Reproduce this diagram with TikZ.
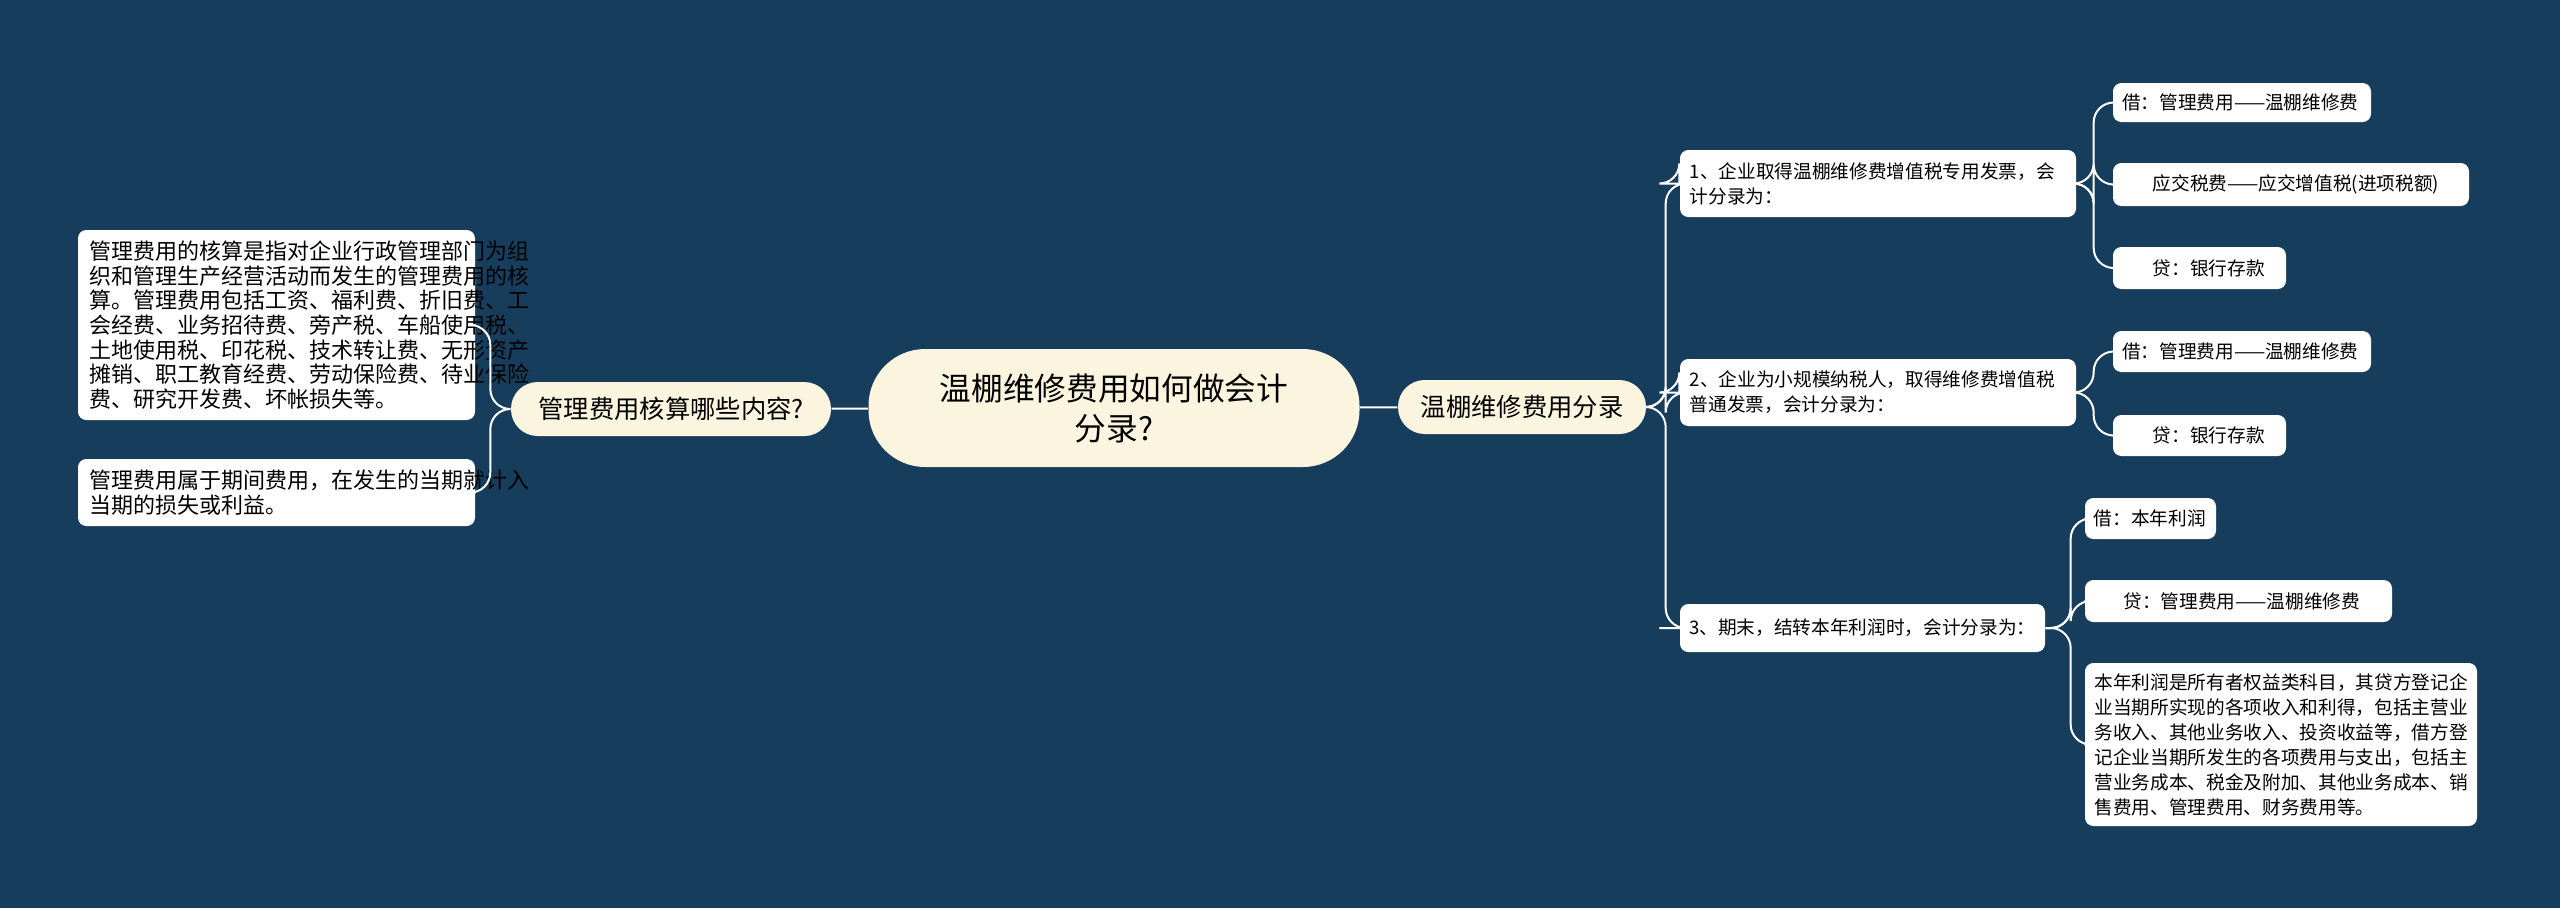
\documentclass[tikz,border=0pt]{standalone}
\usepackage{fontspec}
\setmainfont{Noto Sans CJK SC}
\definecolor{bg}{HTML}{173D5C}
\definecolor{cream}{HTML}{FBF4DF}
\begin{document}
\begin{tikzpicture}[x=0.3pt,y=-0.3pt,
  base/.style={draw=none,inner sep=0pt,align=left},
  rootbox/.style={base,fill=cream,rounded corners=17pt,align=center,font=\fontsize{9.5}{12}\selectfont},
  topicbox/.style={base,fill=cream,rounded corners=8pt,align=center,font=\fontsize{7.6}{9}\selectfont},
  leafL/.style={base,fill=white,rounded corners=2.5pt,font=\fontsize{6.6}{7.4}\selectfont},
  leafR/.style={base,fill=white,rounded corners=2.5pt,font=\fontsize{5.6}{7.5}\selectfont},
  conn/.style={draw=white,line width=0.6pt,rounded corners=6pt}]
\fill[bg] (0,0) rectangle (2560,908);
\useasboundingbox (0,0) rectangle (2560,908);
\node[rootbox,minimum width=147.3pt,minimum height=35.4pt] (root) at (1114,408) {温棚维修费用如何做会计\\分录?};
\node[topicbox,minimum width=96pt,minimum height=16.2pt] (lt) at (671,409) {管理费用核算哪些内容?};
\node[topicbox,minimum width=74.4pt,minimum height=16.2pt] (rt) at (1522,407) {温棚维修费用分录};
\node[leafL,minimum width=119.1pt,minimum height=57pt,text width=112pt] (l1) at (276.5,325) {管理费用的核算是指对企业行政管理部门为组\\织和管理生产经营活动而发生的管理费用的核\\算。管理费用包括工资、福利费、折旧费、工\\会经费、业务招待费、旁产税、车船使用税、\\土地使用税、印花税、技术转让费、无形资产\\摊销、职工教育经费、劳动保险费、待业保险\\费、研究开发费、坏帐损失等。};
\node[leafL,minimum width=119.1pt,minimum height=20.1pt,text width=112pt] (l2) at (276.5,492.5) {管理费用属于期间费用，在发生的当期就计入\\当期的损失或利益。};
\node[leafR,minimum width=118.8pt,minimum height=20.1pt,text width=113pt] (m1) at (1878,183.5) {1、企业取得温棚维修费增值税专用发票，会\\计分录为：};
\node[leafR,minimum width=118.8pt,minimum height=20.1pt,text width=113pt] (m2) at (1878,392.5) {2、企业为小规模纳税人，取得维修费增值税\\普通发票，会计分录为：};
\node[leafR,minimum width=109.5pt,minimum height=14.4pt,text width=104pt] (m3) at (1862.5,628) {3、期末，结转本年利润时，会计分录为：};
\node[leafR,minimum width=77.4pt,minimum height=11.7pt,text width=72pt] (a1) at (2242,102.5) {借：管理费用——温棚维修费};
\node[leafR,minimum width=106.8pt,minimum height=12.9pt,text width=101pt] (a2) at (2291,184.5) {\hspace*{9pt}应交税费——应交增值税(进项税额)};
\node[leafR,minimum width=51.9pt,minimum height=12.6pt,text width=46pt] (a3) at (2199.5,268) {\hspace*{9pt}贷：银行存款};
\node[leafR,minimum width=77.4pt,minimum height=12.3pt,text width=72pt] (b1) at (2242,351.5) {借：管理费用——温棚维修费};
\node[leafR,minimum width=51.9pt,minimum height=12.3pt,text width=46pt] (b2) at (2199.5,435.5) {\hspace*{9pt}贷：银行存款};
\node[leafR,minimum width=39.3pt,minimum height=12.3pt,text width=34pt] (c1) at (2150.5,518.5) {借：本年利润};
\node[leafR,minimum width=92.1pt,minimum height=12.6pt,text width=87pt] (c2) at (2238.5,601) {\hspace*{9pt}贷：管理费用——温棚维修费};
\node[leafR,minimum width=117.6pt,minimum height=48.9pt,text width=112pt] (c3) at (2281,744.5) {本年利润是所有者权益类科目，其贷方登记企\\业当期所实现的各项收入和利得，包括主营业\\务收入、其他业务收入、投资收益等，借方登\\记企业当期所发生的各项费用与支出，包括主\\营业务成本、税金及附加、其他业务成本、销\\售费用、管理费用、财务费用等。};
\draw[conn] (root) -- (lt);
\draw[conn] (root) -- (rt);
\foreach \c in {l1,l2} \draw[conn] (lt.west) -- ++(-20,0) |- (\c.east);
\foreach \c in {m1,m2,m3} \draw[conn] (rt.east) -- ++(19,0) |- (m1.west |- \c.west) -- (\c.west);
\foreach \c in {a1,a2,a3} \draw[conn] (m1.east) -- ++(17,0) |- (\c.west);
\foreach \c in {b1,b2} \draw[conn] (m2.east) -- ++(17,0) |- (\c.west);
\foreach \c in {c1,c2,c3} \draw[conn] (m3.east) -- ++(25,0) |- (\c.west);
\end{tikzpicture}
\end{document}
